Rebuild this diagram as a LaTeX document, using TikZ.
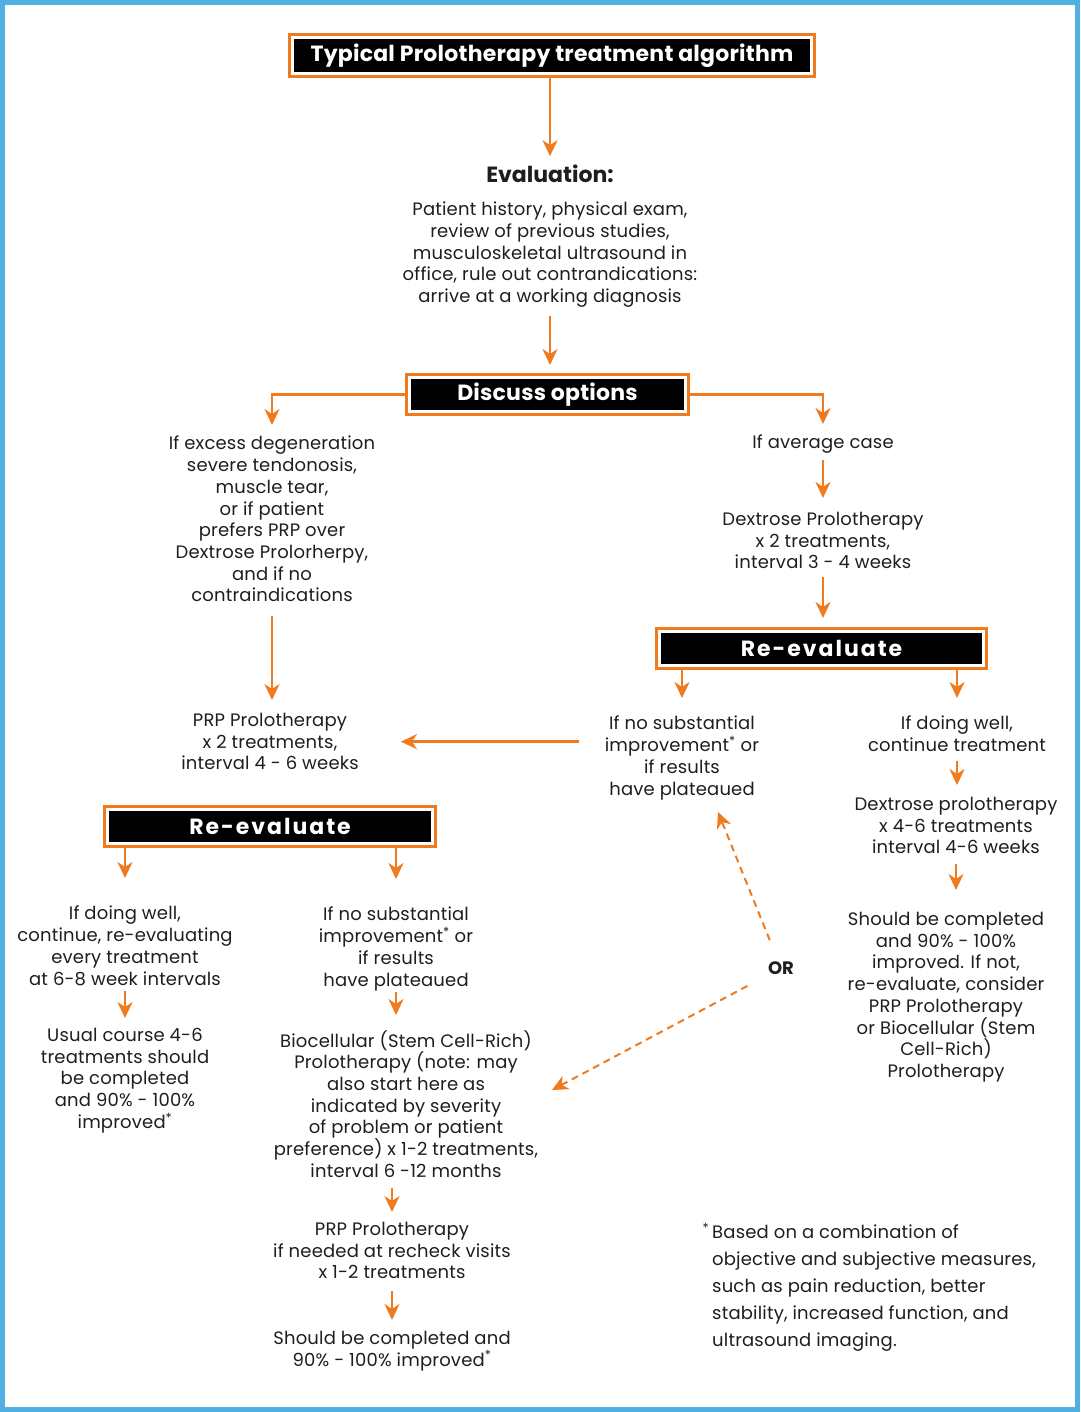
\documentclass[tikz,border=0pt]{standalone}
\usepackage{fontspec}
\setmainfont{Poppins}
\usetikzlibrary{arrows.meta}
\definecolor{orng}{RGB}{240,122,30}
\definecolor{frameblue}{RGB}{80,176,226}
\definecolor{ink}{RGB}{30,30,30}
\tikzset{
  txt/.style={
    align=center, inner sep=0pt, anchor=north, text=ink, yshift=-6pt,
    font=\fontsize{18}{21.7}\selectfont\addfontfeature{LetterSpace=1},
  },
  hdr/.style={
    fill=black, text=white, draw=white, line width=3pt,
    preaction={draw=orng, line width=9pt},
    font=\fontsize{22}{24}\selectfont\bfseries\addfontfeature{LetterSpace=1},
  },
  spaced/.style={
    font=\fontsize{22}{24}\selectfont\bfseries\addfontfeature{LetterSpace=9},
  },
  arr/.style={
    draw=orng, line width=2.4pt,
    -{Stealth[length=16pt, width=15pt, inset=5pt]},
  },
  dasharr/.style={
    arr, line width=2pt, dash pattern=on 7pt off 5pt,
  },
}

\begin{document}
\begin{tikzpicture}[x=1pt, y=-1pt]
\useasboundingbox (0,0) rectangle (1080,1412);
\draw[frameblue, line width=5pt] (2.5,2.5) rectangle (1077.5,1409.5);

\node[hdr, minimum width=519pt, minimum height=36pt] (title) at (552,55.5) {Typical Prolotherapy treatment algorithm};
\node[txt, anchor=base, font=\fontsize{22}{24}\selectfont\bfseries] (evalhd) at (550,177) {Evaluation:};
\node[txt] (evaltxt) at (550,196) {Patient history, physical exam,\\review of previous studies,\\musculoskeletal ultrasound in\\office, rule out contrandications:\\arrive at a working diagnosis};
\node[hdr, minimum width=276pt, minimum height=34pt] (discuss) at (547.5,394.5) {Discuss options};

\node[txt] (excess) at (272,430) {If excess degeneration\\severe tendonosis,\\muscle tear,\\or if patient\\prefers PRP over\\Dextrose Prolorherpy,\\and if no\\contraindications};
\node[txt] (prpA) at (270,707) {PRP Prolotherapy\\x 2 treatments,\\interval 4 - 6 weeks};

\node[txt] (average) at (823,429) {If average case};
\node[txt] (dexA) at (823,506) {Dextrose Prolotherapy\\x 2 treatments,\\interval 3 - 4 weeks};
\node[hdr, spaced, minimum width=324pt, minimum height=34pt] (reR) at (821.5,648.5) {Re-evaluate};
\node[txt] (nosubR) at (682,710) {If no substantial\\improvement\textsuperscript{*} or\\if results\\have plateaued};
\node[txt] (wellR) at (957,710) {If doing well,\\continue treatment};
\node[txt] (dexB) at (956,791) {Dextrose prolotherapy\\x 4-6 treatments\\interval 4-6 weeks};
\node[txt] (doneR) at (946,906) {Should be completed\\and 90\% - 100\%\\improved. If not,\\re-evaluate, consider\\PRP Prolotherapy\\or Biocellular (Stem\\Cell-Rich)\\Prolotherapy};

\node[hdr, spaced, minimum width=325pt, minimum height=34pt] (reL) at (270,826.5) {Re-evaluate};
\node[txt] (wellL) at (125,900) {If doing well,\\continue, re-evaluating\\every treatment\\at 6-8 week intervals};
\node[txt] (usual) at (125,1022) {Usual course 4-6\\treatments should\\be completed\\and 90\% - 100\%\\improved\textsuperscript{*}};
\node[txt] (nosubL) at (396,901) {If no substantial\\improvement\textsuperscript{*} or\\if results\\have plateaued};
\node[txt] (bio) at (406,1024) {Biocellular (Stem Cell-Rich)\\Prolotherapy (note: may\\also start here as\\indicated by severity\\of problem or patient\\preference) x 1-2 treatments,\\interval 6 -12 months};
\node[txt] (prpB) at (392,1216) {PRP Prolotherapy\\if needed at recheck visits\\x 1-2 treatments};
\node[txt] (doneL) at (392,1325) {Should be completed and\\90\% - 100\% improved\textsuperscript{*}};

\node[text=ink, font=\fontsize{18}{20}\selectfont\bfseries] (orlbl) at (781,968) {OR};
\node[txt, align=left, anchor=north west, font=\fontsize{18}{27}\selectfont\addfontfeature{LetterSpace=1}] (note) at (712,1217) {\llap{\textsuperscript{*}\,}Based on a combination of\\objective and subjective measures,\\such as pain reduction, better\\stability, increased function, and\\ultrasound imaging.};

\coordinate (upTip) at (718,812);
\coordinate (dnTip) at (552,1090);

\draw[arr, shorten >=9pt] (title.south -| evalhd) -- (evalhd.north);
\draw[arr, shorten <=8pt, shorten >=11pt] (evaltxt.south) -- (evaltxt.south |- discuss.north);
\draw[arr, shorten >=11pt] (discuss.west) -| (excess.north);
\draw[arr, shorten >=11pt] (discuss.east) -| (average.north);
\draw[arr, shorten <=6pt, shorten >=14pt] (average.south) -- (dexA.north);
\draw[arr, shorten <=8pt, shorten >=12pt] (dexA.south) -- (dexA.south |- reR.north);
\foreach \n in {nosubR, wellR}
  \draw[arr, shorten >=18pt] (reR.south -| \n.north) -- (\n.north);
\draw[arr, shorten <=9pt, shorten >=12pt] (wellR.south) -- (wellR.south |- dexB.north);
\draw[arr, shorten <=10pt, shorten >=22pt] (dexB.south) -- (dexB.south |- doneR.north);
\draw[arr, shorten <=14pt, shorten >=13pt] (excess.south) -- (excess.south |- prpA.north);
\draw[arr, shorten <=26pt, shorten >=42pt] (nosubR.west |- prpA.east) -- (prpA.east);
\foreach \n in {wellL, nosubL}
  \draw[arr, shorten >=28pt] (reL.south -| \n.north) -- (\n.north);
\draw[arr, shorten <=5pt, shorten >=10pt] (wellL.south) -- (wellL.south |- usual.north);
\draw[arr, shorten <=1pt, shorten >=15pt] (nosubL.south) -- (nosubL.south |- bio.north);
\draw[arr, shorten <=10pt, shorten >=10pt] (bio.south -| prpB) -- (prpB.north);
\draw[arr, shorten <=12pt, shorten >=11pt] (prpB.south) -- (prpB.south |- doneL.north);
\draw[dasharr, shorten <=30pt] (orlbl.center) -- (upTip);
\draw[dasharr, shorten <=38pt] (orlbl.center) -- (dnTip);
\end{tikzpicture}
\end{document}
